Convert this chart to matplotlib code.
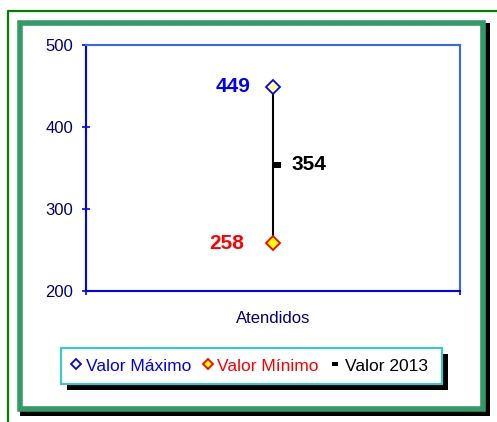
import matplotlib
matplotlib.use("Agg")
import matplotlib.pyplot as plt
from matplotlib.patches import Rectangle
from matplotlib.lines import Line2D
import numpy as np

plt.rcParams["font.family"] = ["Liberation Sans", "DejaVu Sans"]

# data
categories = ["Atendidos"]
valor_maximo = [449]
valor_minimo = [258]
valor_2013 = [354]
y_ticks = [200, 300, 400, 500]

W, H = 497, 422
fig = plt.figure(figsize=(W / 100, H / 100), dpi=100)


def fx(x):
    return x / W


def fy(y):
    return 1 - y / H


def rect_px(x0, y0, x1, y1, **kw):
    return Rectangle((fx(x0), fy(y1)), (x1 - x0) / W, (y1 - y0) / H,
                     transform=fig.transFigure, **kw)


# outer thin green line (top and left)
fig.add_artist(Line2D([fx(7.5), fx(7.5), fx(497)], [fy(422), fy(10.5), fy(10.5)],
                      transform=fig.transFigure, color="#008000", lw=1.6,
                      zorder=-10))

# thick green frame with black shadow
fig.add_artist(rect_px(20, 23, 489.5, 415.5, facecolor="black", edgecolor="none",
                       zorder=-10))
fig.add_artist(rect_px(19.7, 22.7, 483.3, 409.3, facecolor="white",
                       edgecolor="#339966", lw=4, zorder=-9))

# plot area
ax = fig.add_axes([fx(86), fy(291), (460 - 86) / W, (291 - 45) / H])
ax.set_xlim(0, 1)
ax.set_ylim(200, 500)
ax.patch.set_alpha(0)

x = np.arange(len(categories)) + 0.5
ax.vlines(x, valor_minimo, valor_maximo, color="black", lw=1.5, zorder=2)
ax.plot(x, valor_maximo, linestyle="none", marker="D", ms=7, mfc="#FFFF99",
        mec="#0000FF", mew=1.3, zorder=3)
ax.plot(x, valor_minimo, linestyle="none", marker="D", ms=7, mfc="#FFFF00",
        mec="#FF0000", mew=1.3, zorder=3)
dash = [(0, -0.35), (1, -0.35), (1, 0.35), (0, 0.35), (0, -0.35)]
ax.plot(x, valor_2013, linestyle="none", marker=dash, ms=11.5, mfc="black",
        mec="black", mew=0, zorder=3)

for xi, v in zip(x, valor_maximo):
    ax.annotate(str(v), (xi, v), xytext=(-16, 0), textcoords="offset points",
                ha="right", va="center", color="#0000FF", fontsize=15,
                fontweight="bold")
for xi, v in zip(x, valor_minimo):
    ax.annotate(str(v), (xi, v), xytext=(-21, 0), textcoords="offset points",
                ha="right", va="center", color="#FF0000", fontsize=15,
                fontweight="bold")
for xi, v in zip(x, valor_2013):
    ax.annotate(str(v), (xi, v), xytext=(13, 0), textcoords="offset points",
                ha="left", va="center", color="black", fontsize=15,
                fontweight="bold")

ax.set_yticks(y_ticks)
ax.set_xticks([0, 1])
ax.set_xticklabels([])
ax.tick_params(axis="y", direction="inout", length=6, width=1.2,
               colors="#0000FF", labelcolor="#000080", labelsize=12, pad=6)
ax.tick_params(axis="x", direction="inout", length=6, width=1.2,
               colors="#0000FF")
ax.set_xlabel(categories[0], color="#000080", fontsize=12, labelpad=8)

for side in ["left", "bottom"]:
    ax.spines[side].set_color("#0000FF")
    ax.spines[side].set_linewidth(1.5)
for side in ["top", "right"]:
    ax.spines[side].set_color("#3366FF")
    ax.spines[side].set_linewidth(1.5)

# legend box with shadow
fig.add_artist(rect_px(67, 354, 448, 389.5, facecolor="black", edgecolor="none",
                       zorder=3))
fig.add_artist(rect_px(61, 348, 442, 383.5, facecolor="white",
                       edgecolor="#33CCCC", lw=1.5, zorder=4))

legend_dash = [(-1, -0.6), (1, -0.6), (1, 0.6), (-1, 0.6), (-1, -0.6)]
handles = [
    Line2D([], [], linestyle="none", marker="D", ms=5.5, mfc="#FFFF99",
           mec="#0000FF", mew=1.3),
    Line2D([], [], linestyle="none", marker="D", ms=5.5, mfc="#FFFF00",
           mec="#FF0000", mew=1.3),
    Line2D([], [], linestyle="none", marker=legend_dash, ms=5, mfc="black",
           mec="black", mew=0),
]
fig.legend(handles, ["Valor Máximo", "Valor Mínimo", "Valor 2013"],
           loc="center", bbox_to_anchor=(fx(249), fy(366)), ncol=3,
           frameon=False, fontsize=12.5, labelcolor=["#0000FF", "#FF0000", "black"],
           handlelength=0.7, handletextpad=0.2, columnspacing=0.6,
           borderpad=0, borderaxespad=0)

fig.savefig("out.png", dpi=100)
